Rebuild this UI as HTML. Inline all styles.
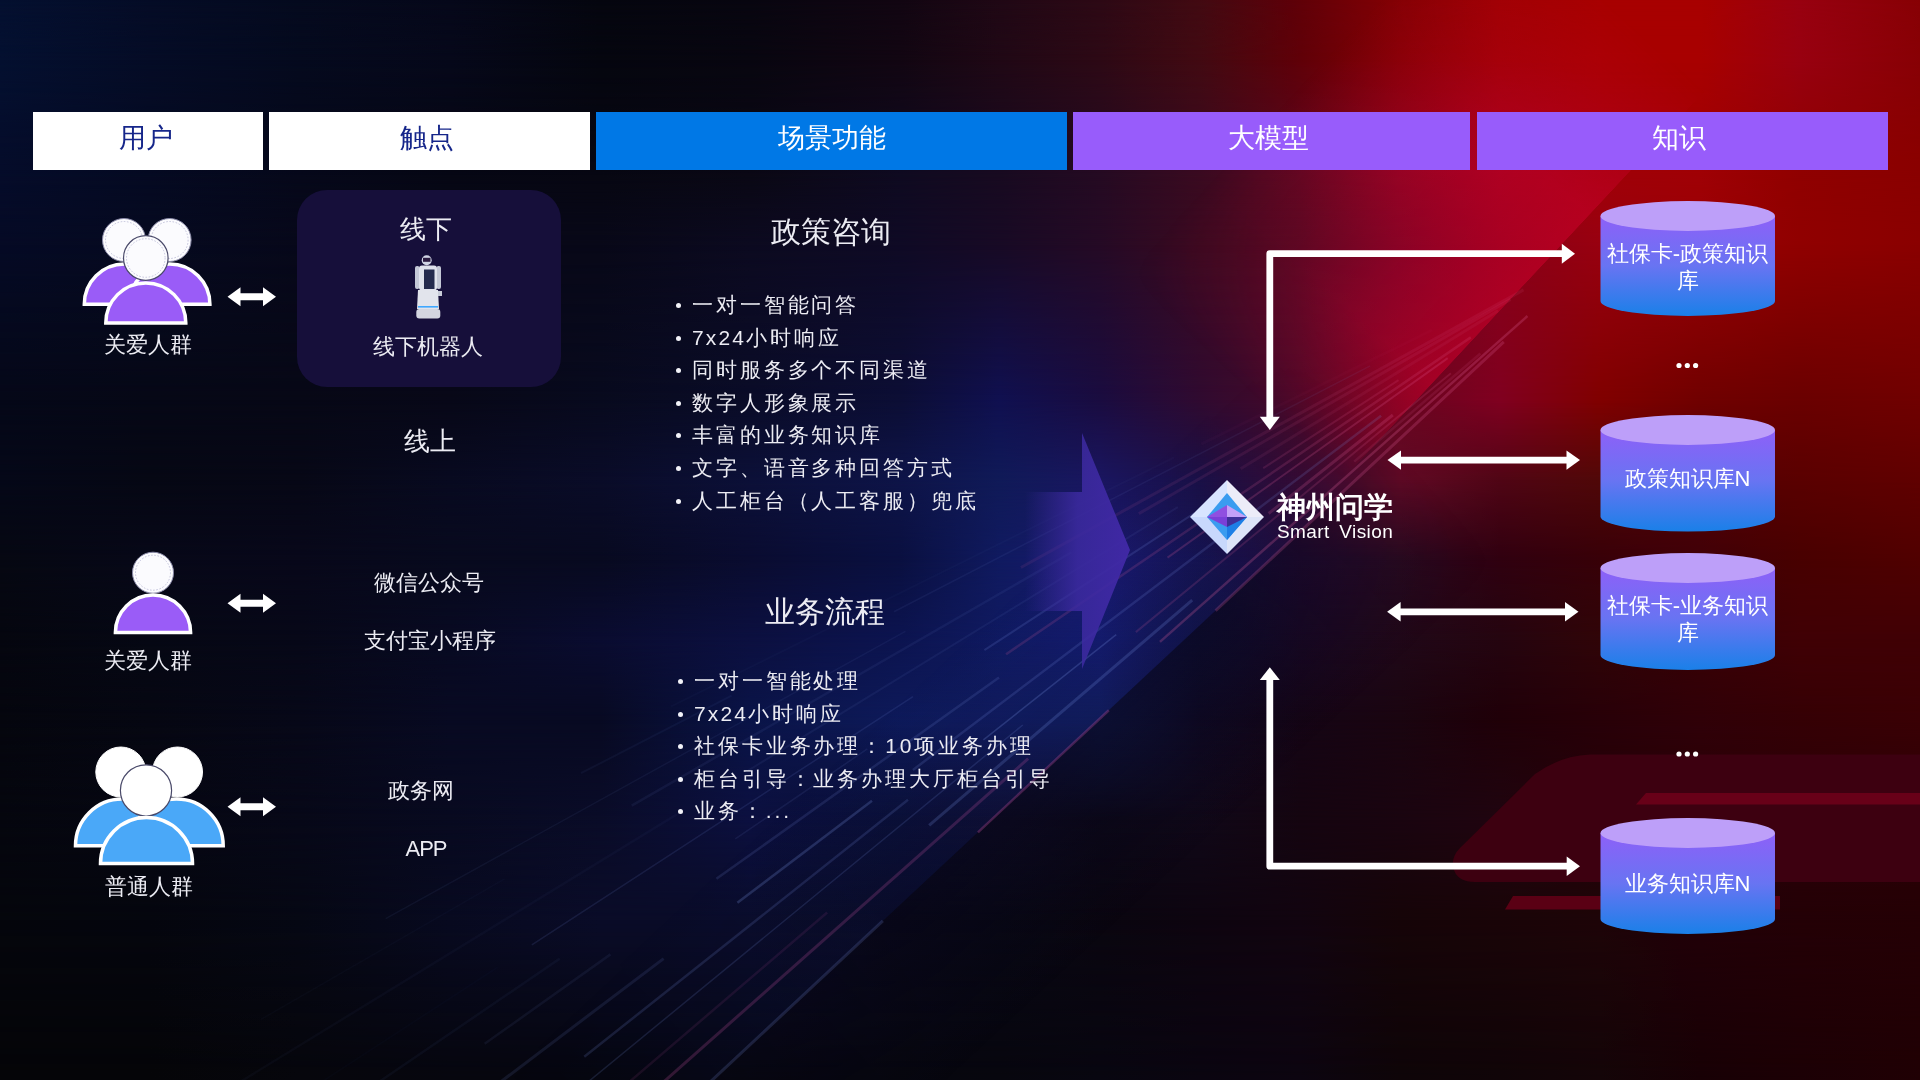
<!DOCTYPE html>
<html><head><meta charset="utf-8">
<style>
html,body{margin:0;padding:0;}
body{width:1920px;height:1080px;overflow:hidden;position:relative;background:#07060e;font-family:"Liberation Sans",sans-serif;color:#fff;}
.abs{position:absolute;}
svg.bg{position:absolute;left:0;top:0;}
.hdr{position:absolute;top:112px;height:58px;line-height:53px;text-align:center;font-size:26.5px;}
.t{position:absolute;line-height:1;white-space:nowrap;text-align:center;color:#ececf3;}
.ul{position:absolute;margin:0;padding:0;list-style:none;font-size:21px;letter-spacing:2.9px;color:#ececf3;}
.ul li{position:relative;height:32.6px;line-height:32.6px;padding-left:16px;white-space:nowrap;}
.ul li:before{content:"";position:absolute;left:0;top:14px;width:5px;height:5px;border-radius:50%;background:#f2f2f8;}
.cyl{position:absolute;width:175px;}
.t,.ul,.hdr,.cyltext{will-change:transform;}
.cyltext{position:absolute;left:0;width:175px;text-align:center;font-size:22px;line-height:26.5px;color:#fff;white-space:nowrap;}
</style></head>
<body>
<div class="abs" style="left:0;top:0;width:1920px;height:1080px;background:linear-gradient(to right,#041030 0px,#050c26 150px,#050a1e 300px,#06081a 450px,#05060f 600px,#080610 750px,#120612 900px,#200815 1000px,#2d0915 1100px,#420a12 1200px,#600008 1300px,#850005 1400px,#a00003 1500px,#a80000 1600px,#a80000 1700px,#980010 1800px,#880005 1920px)"></div>
<div class="abs" style="left:0;top:0px;width:1920px;height:1080px;background:linear-gradient(to right,#041030 0px,#050c26 150px,#050a1e 300px,#06081a 450px,#05060f 600px,#080610 750px,#120612 900px,#200815 1000px,#2d0915 1100px,#420a12 1200px,#600008 1300px,#850005 1400px,#a00003 1500px,#a80000 1600px,#a80000 1700px,#980010 1800px,#880005 1920px);-webkit-mask-image:linear-gradient(to bottom,transparent 0,#000 60px);mask-image:linear-gradient(to bottom,transparent 0,#000 60px)"></div>
<div class="abs" style="left:0;top:60px;width:1920px;height:1020px;background:linear-gradient(to right,#050c2a 0px,#050a22 150px,#06081a 300px,#060714 450px,#070712 600px,#0a0814 750px,#0f0a20 900px,#180a20 1000px,#250a22 1100px,#3a0a20 1200px,#5a0820 1300px,#880520 1400px,#a00018 1500px,#a00008 1600px,#a00005 1700px,#900000 1800px,#8a0000 1920px);-webkit-mask-image:linear-gradient(to bottom,transparent 0,#000 110px);mask-image:linear-gradient(to bottom,transparent 0,#000 110px)"></div>
<div class="abs" style="left:0;top:170px;width:1920px;height:910px;background:linear-gradient(to right,#050a25 0px,#060a20 150px,#07081a 300px,#080818 450px,#080818 600px,#0c0a20 750px,#0f0a25 900px,#180a25 1000px,#250a25 1100px,#3a0a20 1200px,#440a20 1300px,#680520 1400px,#880018 1500px,#980010 1600px,#9a0005 1700px,#900000 1800px,#8a0000 1920px);-webkit-mask-image:linear-gradient(to bottom,transparent 0,#000 75px);mask-image:linear-gradient(to bottom,transparent 0,#000 75px)"></div>
<div class="abs" style="left:0;top:245px;width:1920px;height:835px;background:linear-gradient(to right,#050818 0px,#060816 150px,#070816 300px,#080818 450px,#080a1e 600px,#0a0c28 750px,#0c0e35 900px,#101050 1000px,#1a0c40 1100px,#300a30 1200px,#480a28 1300px,#680520 1400px,#800020 1500px,#800000 1600px,#700000 1700px,#6a0000 1800px,#700000 1920px);-webkit-mask-image:linear-gradient(to bottom,transparent 0,#000 155px);mask-image:linear-gradient(to bottom,transparent 0,#000 155px)"></div>
<div class="abs" style="left:0;top:400px;width:1920px;height:680px;background:linear-gradient(to right,#050818 0px,#060814 150px,#070816 300px,#080a20 450px,#0a0c28 600px,#0c1038 750px,#0e1448 900px,#101a58 1000px,#1a1660 1100px,#1a1045 1200px,#350a30 1300px,#600a25 1400px,#500515 1500px,#500808 1600px,#550005 1700px,#5a0000 1800px,#600000 1920px);-webkit-mask-image:linear-gradient(to bottom,transparent 0,#000 80px);mask-image:linear-gradient(to bottom,transparent 0,#000 80px)"></div>
<div class="abs" style="left:0;top:480px;width:1920px;height:600px;background:linear-gradient(to right,#060812 0px,#070818 150px,#08081a 300px,#080a1e 450px,#080a20 600px,#0a0c30 750px,#0a1040 900px,#101a60 1000px,#1a1a70 1100px,#15124a 1200px,#200a30 1300px,#280a20 1400px,#300010 1500px,#380008 1600px,#400008 1700px,#480000 1800px,#500000 1920px);-webkit-mask-image:linear-gradient(to bottom,transparent 0,#000 80px);mask-image:linear-gradient(to bottom,transparent 0,#000 80px)"></div>
<div class="abs" style="left:0;top:560px;width:1920px;height:520px;background:linear-gradient(to right,#05060f 0px,#060814 150px,#070818 300px,#080a22 450px,#0a0c30 600px,#0c1040 750px,#0c1450 900px,#101a60 1000px,#141a68 1100px,#10103a 1200px,#1a0825 1300px,#200818 1400px,#250510 1500px,#300508 1600px,#380005 1700px,#400005 1800px,#400005 1920px);-webkit-mask-image:linear-gradient(to bottom,transparent 0,#000 80px);mask-image:linear-gradient(to bottom,transparent 0,#000 80px)"></div>
<div class="abs" style="left:0;top:640px;width:1920px;height:440px;background:linear-gradient(to right,#05060e 0px,#060712 150px,#070818 300px,#080a22 450px,#080a22 600px,#0a1448 750px,#0e1a5a 900px,#101a58 1000px,#101a50 1100px,#100a25 1200px,#150515 1300px,#1a0510 1400px,#200008 1500px,#280008 1600px,#300008 1700px,#350005 1800px,#3a0005 1920px);-webkit-mask-image:linear-gradient(to bottom,transparent 0,#000 80px);mask-image:linear-gradient(to bottom,transparent 0,#000 80px)"></div>
<div class="abs" style="left:0;top:720px;width:1920px;height:360px;background:linear-gradient(to right,#05060e 0px,#060712 150px,#070818 300px,#080a20 450px,#0a0c28 600px,#0c1040 750px,#0a0e30 900px,#0e0c25 1000px,#0c0818 1100px,#100818 1200px,#150510 1300px,#1a0510 1400px,#200510 1500px,#250008 1600px,#280008 1700px,#2a0008 1800px,#2a0005 1920px);-webkit-mask-image:linear-gradient(to bottom,transparent 0,#000 100px);mask-image:linear-gradient(to bottom,transparent 0,#000 100px)"></div>
<div class="abs" style="left:0;top:820px;width:1920px;height:260px;background:linear-gradient(to right,#05060c 0px,#05060e 150px,#060814 300px,#080a20 450px,#0a0c28 600px,#0a0c28 750px,#080818 900px,#080814 1000px,#0a0610 1100px,#0e0510 1200px,#120510 1300px,#160508 1400px,#1a0508 1500px,#1e0508 1600px,#220008 1700px,#240006 1800px,#250005 1920px);-webkit-mask-image:linear-gradient(to bottom,transparent 0,#000 100px);mask-image:linear-gradient(to bottom,transparent 0,#000 100px)"></div>
<div class="abs" style="left:0;top:920px;width:1920px;height:160px;background:linear-gradient(to right,#050508 0px,#050508 150px,#06060c 300px,#06060e 450px,#06060e 600px,#06060e 750px,#06060e 900px,#07060e 1000px,#080610 1100px,#0a0510 1200px,#0c0510 1300px,#0e0508 1400px,#100508 1500px,#140508 1600px,#180005 1700px,#1c0005 1800px,#200004 1920px);-webkit-mask-image:linear-gradient(to bottom,transparent 0,#000 160px);mask-image:linear-gradient(to bottom,transparent 0,#000 160px)"></div>
<svg class="bg" width="1920" height="1080" viewBox="0 0 1920 1080">
<defs>
 <radialGradient id="navy" cx="0" cy="120" r="760" gradientUnits="userSpaceOnUse">
  <stop offset="0" stop-color="#031040" stop-opacity="0.95"/>
  <stop offset="0.5" stop-color="#04092a" stop-opacity="0.6"/>
  <stop offset="1" stop-color="#04082a" stop-opacity="0"/>
 </radialGradient>
 <filter id="blur4" x="-10%" y="-30%" width="120%" height="160%"><feGaussianBlur stdDeviation="1.5"/></filter>
 <linearGradient id="arrowg" x1="1025" y1="0" x2="1130" y2="0" gradientUnits="userSpaceOnUse">
  <stop offset="0" stop-color="#3a2a9a" stop-opacity="0"/>
  <stop offset="0.5" stop-color="#3c2aa0" stop-opacity="0.85"/>
  <stop offset="1" stop-color="#4229a8" stop-opacity="0.95"/>
 </linearGradient>

 <linearGradient id="gv" x1="0" y1="-1400" x2="0" y2="1400" gradientUnits="userSpaceOnUse">
  <stop offset="0.2786" stop-color="#200510" stop-opacity="0"/>
  <stop offset="0.2786" stop-color="#200510" stop-opacity="0"/>
  <stop offset="0.3" stop-color="#300512" stop-opacity="0.5"/>
  <stop offset="0.33" stop-color="#500010" stop-opacity="1"/>
  <stop offset="0.3821" stop-color="#900010"/>
  <stop offset="0.4179" stop-color="#8c0012"/>
  <stop offset="0.4725" stop-color="#a80030"/>
  <stop offset="0.5" stop-color="#b00020"/>
  <stop offset="0.5639" stop-color="#700000"/>
  <stop offset="0.6196" stop-color="#500000"/>
  <stop offset="0.7286" stop-color="#180004"/>
  <stop offset="0.8" stop-color="#0a0004" stop-opacity="0"/>
 </linearGradient>
 <linearGradient id="fu" x1="-1800" y1="0" x2="1800" y2="0" gradientUnits="userSpaceOnUse">
  <stop offset="0.375" stop-color="#000"/>
  <stop offset="0.4361" stop-color="#4d4d4d"/>
  <stop offset="0.4986" stop-color="#f2f2f2"/>
  <stop offset="0.53" stop-color="#fff"/>
 </linearGradient>
 <mask id="mu" maskUnits="userSpaceOnUse" x="-1800" y="-1400" width="3600" height="2800">
  <rect x="-1800" y="-1400" width="3600" height="2800" fill="url(#fu)"/>
 </mask>
 <linearGradient id="bluev" x1="0" y1="-1400" x2="0" y2="1400" gradientUnits="userSpaceOnUse">
  <stop offset="0.36" stop-color="#0c1450" stop-opacity="0"/>
  <stop offset="0.43" stop-color="#0e1a62" stop-opacity="0.9"/>
  <stop offset="0.47" stop-color="#0e1a62" stop-opacity="0.9"/>
  <stop offset="0.53" stop-color="#0c1450" stop-opacity="0"/>
 </linearGradient>
 <linearGradient id="fub" x1="-1800" y1="0" x2="1800" y2="0" gradientUnits="userSpaceOnUse">
  <stop offset="0.15" stop-color="#000"/>
  <stop offset="0.3" stop-color="#888"/>
  <stop offset="0.36" stop-color="#fff"/>
  <stop offset="0.42" stop-color="#fff"/>
  <stop offset="0.47" stop-color="#000"/>
 </linearGradient>
 <mask id="mub" maskUnits="userSpaceOnUse" x="-1800" y="-1400" width="3600" height="2800">
  <rect x="-1800" y="-1400" width="3600" height="2800" fill="url(#fub)"/>
 </mask>

 <linearGradient id="crim" x1="0" y1="-300" x2="0" y2="0" gradientUnits="userSpaceOnUse">
  <stop offset="0" stop-color="#c00030" stop-opacity="0"/>
  <stop offset="0.33" stop-color="#c00030" stop-opacity="0.2"/>
  <stop offset="0.67" stop-color="#c40030" stop-opacity="0.42"/>
  <stop offset="1" stop-color="#c8002a" stop-opacity="0.6"/>
 </linearGradient>
 <linearGradient id="crimu" x1="-230" y1="0" x2="300" y2="0" gradientUnits="userSpaceOnUse">
  <stop offset="0" stop-color="#000"/>
  <stop offset="0.245" stop-color="#fff"/>
  <stop offset="0.679" stop-color="#fff"/>
  <stop offset="1" stop-color="#000"/>
 </linearGradient>
 <mask id="crimmask" maskUnits="userSpaceOnUse" x="-230" y="-300" width="530" height="300" style="mask-type:luminance">
  <rect x="-230" y="-300" width="530" height="300" fill="url(#crimu)"/>
 </mask>

 <linearGradient id="bandhi" x1="0" y1="150" x2="0" y2="0" gradientUnits="userSpaceOnUse">
  <stop offset="0" stop-color="#1428a0" stop-opacity="0"/>
  <stop offset="1" stop-color="#1428a0" stop-opacity="0.12"/>
 </linearGradient>
 <linearGradient id="bandsh" x1="0" y1="0" x2="0" y2="-160" gradientUnits="userSpaceOnUse">
  <stop offset="0" stop-color="#080618" stop-opacity="0.55"/>
  <stop offset="1" stop-color="#080618" stop-opacity="0"/>
 </linearGradient>
 <linearGradient id="bandu" x1="300" y1="0" x2="1450" y2="0" gradientUnits="userSpaceOnUse">
  <stop offset="0" stop-color="#000"/>
  <stop offset="0.2" stop-color="#fff"/>
  <stop offset="0.6" stop-color="#fff"/>
  <stop offset="1" stop-color="#000"/>
 </linearGradient>
 <mask id="bandmask" maskUnits="userSpaceOnUse" x="300" y="-160" width="1150" height="310" style="mask-type:luminance">
  <rect x="300" y="-160" width="1150" height="310" fill="url(#bandu)"/>
 </mask>
</defs>
<g transform="translate(1500 311) rotate(-47)">
 <rect x="-230" y="-300" width="530" height="300" fill="url(#crim)" mask="url(#crimmask)"/>
</g>
<g transform="translate(1612 241) rotate(137)">
 <rect x="300" y="0" width="1150" height="150" fill="url(#bandhi)" mask="url(#bandmask)"/>
 <rect x="300" y="-160" width="1150" height="160" fill="url(#bandsh)" mask="url(#bandmask)"/>
<line x1="148" y1="0.0" x2="542" y2="0.0" stroke="rgb(225, 95, 155)" stroke-opacity="0.23" stroke-width="3"/>
<line x1="688" y1="0.0" x2="867" y2="0.0" stroke="rgb(200, 80, 160)" stroke-opacity="0.31" stroke-width="2.5"/>
<line x1="997" y1="0.0" x2="1234" y2="0.0" stroke="rgb(125, 150, 230)" stroke-opacity="0.19" stroke-width="3"/>
<line x1="113" y1="2.8" x2="604" y2="15.1" stroke="rgb(225, 95, 155)" stroke-opacity="0.26" stroke-width="2.5"/>
<line x1="780" y1="19.6" x2="1300" y2="32.6" stroke="rgb(200, 80, 160)" stroke-opacity="0.23" stroke-width="3"/>
<line x1="173" y1="7.4" x2="339" y2="14.5" stroke="rgb(225, 95, 155)" stroke-opacity="0.12" stroke-width="2.5"/>
<line x1="552" y1="23.6" x2="898" y2="38.3" stroke="rgb(125, 150, 230)" stroke-opacity="0.21" stroke-width="3"/>
<line x1="1032" y1="44.1" x2="1422" y2="60.7" stroke="rgb(200, 80, 160)" stroke-opacity="0.11" stroke-width="2.5"/>
<line x1="208" y1="13.1" x2="615" y2="38.7" stroke="rgb(225, 95, 155)" stroke-opacity="0.17" stroke-width="2"/>
<line x1="761" y1="47.9" x2="1354" y2="85.3" stroke="rgb(125, 150, 230)" stroke-opacity="0.16" stroke-width="1.5"/>
<line x1="279" y1="22.2" x2="437" y2="34.9" stroke="rgb(225, 95, 155)" stroke-opacity="0.21" stroke-width="3"/>
<line x1="631" y1="50.3" x2="800" y2="63.8" stroke="rgb(125, 150, 230)" stroke-opacity="0.24" stroke-width="1.5"/>
<line x1="896" y1="71.4" x2="1308" y2="104.3" stroke="rgb(125, 150, 230)" stroke-opacity="0.17" stroke-width="2.5"/>
<line x1="288" y1="29.7" x2="872" y2="89.9" stroke="rgb(125, 150, 230)" stroke-opacity="0.17" stroke-width="2.5"/>
<line x1="923" y1="95.2" x2="1091" y2="112.5" stroke="rgb(125, 150, 230)" stroke-opacity="0.23" stroke-width="2.5"/>
<line x1="1183" y1="122.0" x2="1394" y2="143.8" stroke="rgb(125, 150, 230)" stroke-opacity="0.12" stroke-width="3"/>
<line x1="200" y1="26.4" x2="541" y2="71.6" stroke="rgb(225, 95, 155)" stroke-opacity="0.21" stroke-width="2"/>
<line x1="746" y1="98.8" x2="1090" y2="144.3" stroke="rgb(125, 150, 230)" stroke-opacity="0.15" stroke-width="2.5"/>
<line x1="1219" y1="161.3" x2="1372" y2="181.7" stroke="rgb(125, 150, 230)" stroke-opacity="0.08" stroke-width="2.5"/>
<line x1="169" y1="25.8" x2="725" y2="111.0" stroke="rgb(225, 95, 155)" stroke-opacity="0.17" stroke-width="2.5"/>
<line x1="891" y1="136.4" x2="1049" y2="160.6" stroke="rgb(125, 150, 230)" stroke-opacity="0.10" stroke-width="1.5"/>
<line x1="1259" y1="192.8" x2="1519" y2="232.6" stroke="rgb(125, 150, 230)" stroke-opacity="0.05" stroke-width="2.5"/>
<line x1="251" y1="43.8" x2="410" y2="71.7" stroke="rgb(225, 95, 155)" stroke-opacity="0.15" stroke-width="2"/>
<line x1="491" y1="85.8" x2="738" y2="128.8" stroke="rgb(125, 150, 230)" stroke-opacity="0.17" stroke-width="2"/>
<line x1="822" y1="143.5" x2="1270" y2="221.9" stroke="rgb(125, 150, 230)" stroke-opacity="0.13" stroke-width="1.5"/>
<line x1="1310" y1="228.8" x2="1600" y2="279.5" stroke="rgb(125, 150, 230)" stroke-opacity="0.02" stroke-width="2"/>
<line x1="131" y1="26.7" x2="427" y2="86.7" stroke="rgb(225, 95, 155)" stroke-opacity="0.09" stroke-width="3"/>
<line x1="499" y1="101.5" x2="993" y2="201.9" stroke="rgb(125, 150, 230)" stroke-opacity="0.08" stroke-width="2"/>
<line x1="1075" y1="218.5" x2="1590" y2="323.3" stroke="rgb(125, 150, 230)" stroke-opacity="0.04" stroke-width="2.5"/>
<line x1="114" y1="26.5" x2="532" y2="123.3" stroke="rgb(225, 95, 155)" stroke-opacity="0.10" stroke-width="3"/>
<line x1="608" y1="141.0" x2="1102" y2="255.6" stroke="rgb(125, 150, 230)" stroke-opacity="0.08" stroke-width="2.5"/>
<line x1="1245" y1="288.7" x2="1519" y2="352.1" stroke="rgb(125, 150, 230)" stroke-opacity="0.03" stroke-width="1.5"/>
<line x1="98" y1="24.6" x2="655" y2="164.3" stroke="rgb(225, 95, 155)" stroke-opacity="0.10" stroke-width="3"/>
<line x1="783" y1="196.4" x2="1359" y2="340.8" stroke="rgb(125, 150, 230)" stroke-opacity="0.07" stroke-width="1.5"/>
<line x1="262" y1="73.6" x2="778" y2="218.6" stroke="rgb(125, 150, 230)" stroke-opacity="0.08" stroke-width="1.5"/>
<line x1="954" y1="267.9" x2="1117" y2="313.9" stroke="rgb(125, 150, 230)" stroke-opacity="0.06" stroke-width="2"/>
<line x1="192" y1="57.6" x2="439" y2="131.6" stroke="rgb(225, 95, 155)" stroke-opacity="0.03" stroke-width="3"/>
<line x1="468" y1="140.4" x2="1006" y2="301.4" stroke="rgb(125, 150, 230)" stroke-opacity="0.03" stroke-width="2"/>
</g>
<!-- train shape -->
<g>
 <path d="M1920,754.6 L1590,754.6 Q1560,756 1535,774 L1460,848 Q1450,858 1454,870 Q1458,882 1475,882 L1920,882 Z" fill="#3d0010"/>
 <path d="M1646,793 L1920,793 L1920,804.5 L1636,804.5 Z" fill="#680018"/>
 <path d="M1513,896 L1780,896 L1780,909.5 L1505,909.5 Z" fill="#5a0014"/>
</g>
<!-- big arrow -->
<polygon points="1000,492 1082,492 1082,433 1130,550 1082,669 1082,611 1000,611" fill="url(#arrowg)"/>
</svg>

<!-- header -->
<div class="hdr" style="left:33px;width:225px;padding-right:5px;background:#fff;color:#16268a;">用户</div>
<div class="hdr" style="left:269px;width:316px;padding-right:5px;background:#fff;color:#16268a;">触点</div>
<div class="hdr" style="left:596px;width:471px;background:#0078e6;">场景功能</div>
<div class="hdr" style="left:1073px;width:391px;padding-right:6px;background:#985cfb;">大模型</div>
<div class="hdr" style="left:1477px;width:404px;padding-right:7px;background:#985cfb;">知识</div>

<!-- people icons -->
<svg class="abs" style="left:0;top:0" width="300" height="1080" viewBox="0 0 300 1080">
 <g stroke="#fff" stroke-width="3.5">
  <!-- group 1 purple -->
  <circle cx="124" cy="240" r="21.5" fill="#fbfbfe" stroke="#8a8aa8" stroke-width="1"/>
  <circle cx="124" cy="240" r="18.5" fill="none" stroke="#b8b8d4" stroke-width="0.8" stroke-dasharray="1.6 1.6"/>
  <circle cx="169.6" cy="240" r="21.5" fill="#fbfbfe" stroke="#8a8aa8" stroke-width="1"/>
  <circle cx="169.6" cy="240" r="18.5" fill="none" stroke="#b8b8d4" stroke-width="0.8" stroke-dasharray="1.6 1.6"/>
  <path d="M84.3,304.2 A40.2,40.2 0 0 1 164.7,304.2 Z" fill="#9a5cf7"/>
  <path d="M129.5,304.2 A40.2,40.2 0 0 1 209.9,304.2 Z" fill="#9a5cf7"/>
  <circle cx="145.8" cy="258" r="22.3" fill="#fbfbfe" stroke="#4a4a6a" stroke-width="1.2"/>
  <circle cx="145.8" cy="258" r="19.3" fill="none" stroke="#b8b8d4" stroke-width="0.8" stroke-dasharray="1.6 1.6"/>
  <path d="M105.8,322.9 A40,40 0 0 1 185.8,322.9 Z" fill="#9a5cf7"/>
  <!-- single -->
  <circle cx="153" cy="572.7" r="20.5" fill="#fbfbfe" stroke="#8a8aa8" stroke-width="1"/>
  <circle cx="153" cy="572.7" r="17.5" fill="none" stroke="#b8b8d4" stroke-width="0.8" stroke-dasharray="1.6 1.6"/>
  <path d="M115.4,632.6 A37.6,37.6 0 0 1 190.6,632.6 Z" fill="#9a5cf7"/>
  <!-- group 3 blue -->
  <circle cx="120.8" cy="772" r="25" fill="#fff" stroke="#fff" stroke-width="1"/>
  <circle cx="177.5" cy="772" r="25" fill="#fff" stroke="#fff" stroke-width="1"/>
  <path d="M75.5,845.7 A46.7,46.7 0 0 1 168.9,845.7 Z" fill="#4aa8f8"/>
  <path d="M129.8,845.7 A46.7,46.7 0 0 1 223.2,845.7 Z" fill="#4aa8f8"/>
  <circle cx="146" cy="790.4" r="25.6" fill="#fff" stroke="#4a4a6a" stroke-width="1.2"/>
  <path d="M100.5,863.5 A46,46 0 0 1 192.5,863.5 Z" fill="#4aa8f8"/>
 </g>
 <g fill="#fff">
  <polygon points="227.5,296.7 240.5,287.2 240.5,293.2 263,293.2 263,287.2 276,296.7 263,306.2 263,300.2 240.5,300.2 240.5,306.2"/>
  <polygon points="227.5,603.3 240.5,593.8 240.5,599.8 263,599.8 263,593.8 276,603.3 263,612.8 263,606.8 240.5,606.8 240.5,612.8"/>
  <polygon points="227.5,806.7 240.5,797.2 240.5,803.2 263,803.2 263,797.2 276,806.7 263,816.2 263,810.2 240.5,810.2 240.5,816.2"/>
 </g>
</svg>
<div class="t" style="left:98px;top:334px;width:100px;font-size:22px;">关爱人群</div>
<div class="t" style="left:98px;top:650px;width:100px;font-size:22px;">关爱人群</div>
<div class="t" style="left:99px;top:876px;width:100px;font-size:22px;">普通人群</div>

<!-- touchpoints -->
<div class="abs" style="left:297px;top:190px;width:264px;height:197px;border-radius:30px;background:#160f3a;"></div>
<div class="t" style="left:326px;top:216px;width:200px;font-size:26px;">线下</div>
<svg class="abs" style="left:408px;top:254px" width="40" height="66" viewBox="0 0 40 66">
 <circle cx="18.7" cy="6.2" r="5" fill="#d0d4e4"/>
 <rect x="15" y="3.8" width="7.5" height="4" fill="#2a1a40"/>
 <rect x="7" y="12" width="4.5" height="23" rx="2" fill="#c4c8d6"/>
 <rect x="28.5" y="12" width="4.5" height="23" rx="2" fill="#c4c8d6"/>
 <rect x="11" y="11.5" width="18" height="25" rx="3" fill="#dfe2ec"/>
 <rect x="16" y="15.5" width="10.5" height="19.5" fill="#242a4e"/>
 <path d="M10,36 L30,36 L31,55 L9,55 Z" fill="#e2e4ec"/>
 <rect x="30" y="37" width="4" height="5" fill="#c8ccd8"/>
 <rect x="10" y="52" width="20" height="1.6" fill="#40a8ff"/>
 <rect x="8.3" y="55" width="24" height="9.5" rx="3" fill="#d4d6e0"/>
</svg>
<div class="t" style="left:328px;top:336px;width:200px;font-size:22px;">线下机器人</div>
<div class="t" style="left:330px;top:428px;width:200px;font-size:26px;">线上</div>
<div class="t" style="left:329px;top:572px;width:200px;font-size:22px;">微信公众号</div>
<div class="t" style="left:330px;top:630px;width:200px;font-size:22px;">支付宝小程序</div>
<div class="t" style="left:321px;top:780px;width:200px;font-size:22px;">政务网</div>
<div class="t" style="left:326px;top:838px;width:200px;font-size:22px;letter-spacing:-1px;">APP</div>

<!-- scenario -->
<div class="t" style="left:631px;top:217px;width:400px;font-size:30px;">政策咨询</div>
<ul class="ul" style="left:676px;top:289px;">
 <li>一对一智能问答</li>
 <li><span style="letter-spacing:2.1px">7x24</span>小时响应</li>
 <li>同时服务多个不同渠道</li>
 <li>数字人形象展示</li>
 <li>丰富的业务知识库</li>
 <li>文字、语音多种回答方式</li>
 <li>人工柜台（人工客服）兜底</li>
</ul>
<div class="t" style="left:625px;top:597px;width:400px;font-size:30px;">业务流程</div>
<ul class="ul" style="left:678px;top:665px;">
 <li>一对一智能处理</li>
 <li><span style="letter-spacing:2.1px">7x24</span>小时响应</li>
 <li>社保卡业务办理：10项业务办理</li>
 <li>柜台引导：业务办理大厅柜台引导</li>
 <li>业务：...</li>
</ul>

<!-- logo -->
<svg class="abs" style="left:1185px;top:475px" width="90" height="85" viewBox="1185 475 90 85">
 <polygon points="1227,480 1264,517 1227,517" fill="#ececf8"/>
 <polygon points="1227,480 1190,517 1227,517" fill="#d8e4ff"/>
 <polygon points="1190,517 1227,554 1227,517" fill="#c8d8fc"/>
 <polygon points="1264,517 1227,554 1227,517" fill="#dde4f8"/>
 <polygon points="1227,493 1207,517 1227,540 1247,517" fill="#3a9cf0"/>
 <polygon points="1227,540 1247,517 1227,517" fill="#1e7fe6"/>
 <polygon points="1227,505 1207,517 1227,517" fill="#9050e0"/>
 <polygon points="1227,505 1247,517 1227,517" fill="#c4a0f8"/>
 <polygon points="1207,517 1227,527 1227,517" fill="#7a40d8"/>
 <polygon points="1247,517 1227,527 1227,517" fill="#40309a"/>
</svg>
<div class="t" style="left:1277px;top:493px;font-size:28.5px;font-weight:bold;text-align:left;color:#fff;">神州问学</div>
<div class="t" style="left:1277px;top:522px;font-size:19px;letter-spacing:0.4px;word-spacing:4px;text-align:left;color:#fff;">Smart Vision</div>

<!-- right arrows -->
<svg class="abs" style="left:0;top:0" width="1920" height="1080" viewBox="0 0 1920 1080">
 <g fill="none" stroke="#fff" stroke-width="6.8" stroke-linejoin="round">
  <polyline points="1269.8,418 1269.8,253.7 1563,253.7"/>
  <polyline points="1269.8,678 1269.8,866.2 1568,866.2"/>
  <line x1="1400" y1="460.1" x2="1568" y2="460.1"/>
  <line x1="1400" y1="611.8" x2="1566" y2="611.8"/>
 </g>
 <g fill="#fff">
  <polygon points="1575,253.7 1561.8,243.7 1561.8,263.7"/>
  <polygon points="1269.8,430 1259.8,416.7 1279.8,416.7"/>
  <polygon points="1269.8,667.3 1259.8,680 1279.8,680"/>
  <polygon points="1580,866.2 1566.7,856.5 1566.7,876"/>
  <polygon points="1387.5,460.1 1401,450.4 1401,469.8"/>
  <polygon points="1580,460.1 1566.5,450.4 1566.5,469.8"/>
  <polygon points="1387.1,611.8 1400.6,602.1 1400.6,621.5"/>
  <polygon points="1578.5,611.8 1565,602.1 1565,621.5"/>
 </g>
 <g fill="#fff">
  <circle cx="1679" cy="365.5" r="2.6"/><circle cx="1687.3" cy="365.5" r="2.6"/><circle cx="1695.6" cy="365.5" r="2.6"/>
  <circle cx="1679" cy="754" r="2.6"/><circle cx="1687.3" cy="754" r="2.6"/><circle cx="1695.6" cy="754" r="2.6"/>
 </g>
 <defs>
  <linearGradient id="cylg" x1="0" y1="0" x2="0" y2="1">
   <stop offset="0" stop-color="#8e60f8"/>
   <stop offset="0.5" stop-color="#6874f2"/>
   <stop offset="1" stop-color="#1a80e8"/>
  </linearGradient>
 </defs>
 <!-- cylinders: x 1600.5-1775, ry 15 -->
 <g id="cyls">
  <path d="M1600.5,216 L1600.5,301 A87.25,15 0 0 0 1775,301 L1775,216 Z" fill="url(#cylg)"/>
  <ellipse cx="1687.75" cy="216" rx="87.25" ry="15" fill="#bd9ff9"/>
  <path d="M1600.5,430 L1600.5,516.6 A87.25,15 0 0 0 1775,516.6 L1775,430 Z" fill="url(#cylg)"/>
  <ellipse cx="1687.75" cy="430" rx="87.25" ry="15" fill="#bd9ff9"/>
  <path d="M1600.5,568 L1600.5,655 A87.25,15 0 0 0 1775,655 L1775,568 Z" fill="url(#cylg)"/>
  <ellipse cx="1687.75" cy="568" rx="87.25" ry="15" fill="#bd9ff9"/>
  <path d="M1600.5,833 L1600.5,919 A87.25,15 0 0 0 1775,919 L1775,833 Z" fill="url(#cylg)"/>
  <ellipse cx="1687.75" cy="833" rx="87.25" ry="15" fill="#bd9ff9"/>
 </g>
</svg>
<div class="cyltext" style="left:1600px;top:241px;">社保卡-政策知识<br>库</div>
<div class="cyltext" style="left:1600px;top:466px;">政策知识库N</div>
<div class="cyltext" style="left:1600px;top:593px;">社保卡-业务知识<br>库</div>
<div class="cyltext" style="left:1600px;top:871px;">业务知识库N</div>
</body></html>
